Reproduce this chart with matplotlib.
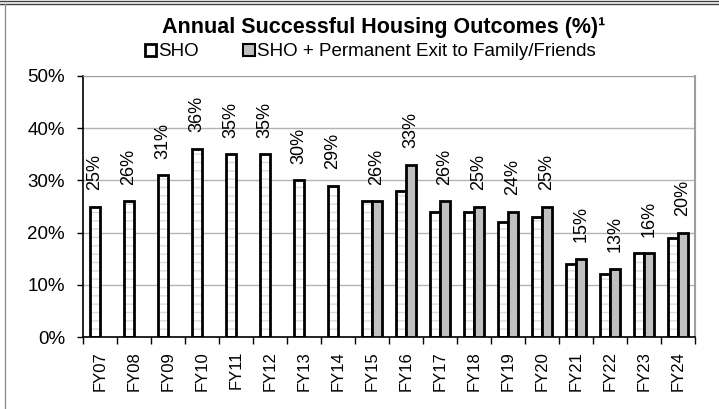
from matplotlib import pyplot as plt
from matplotlib.patches import Patch
from matplotlib.lines import Line2D
import numpy as np

# Data
years = ["FY07", "FY08", "FY09", "FY10", "FY11", "FY12", "FY13", "FY14", "FY15",
         "FY16", "FY17", "FY18", "FY19", "FY20", "FY21", "FY22", "FY23", "FY24"]
sho = [25, 26, 31, 36, 35, 35, 30, 29, 26, 28, 24, 24, 22, 23, 14, 12, 16, 19]
sho_family = [np.nan] * 8 + [26, 33, 26, 25, 24, 25, 15, 13, 16, 20]
y_ticks = [0, 10, 20, 30, 40, 50]

plt.rcParams["font.family"] = ["Liberation Sans", "DejaVu Sans"]
plt.rcParams["hatch.linewidth"] = 1.0

fig = plt.figure(figsize=(7.19, 4.09), dpi=100)
ax = fig.add_axes([83 / 719, 1 - 337 / 409, 612 / 719, 261 / 409])

x = np.arange(len(years))
w = 0.294
fam = np.array(sho_family, dtype=float)

#Gridlines behind bars
ax.set_axisbelow(True)
ax.yaxis.grid(True, color="#b4b4b4", linewidth=1.0)

#White bars: light dashed fill, then black outline
ax.bar(x - w / 2, sho, w, color="white", hatch="--", edgecolor="#dadada", linewidth=0, zorder=2)
ax.bar(x - w / 2, sho, w, fill=False, edgecolor="black", linewidth=2.0, zorder=3)

#Gray bars
ax.bar(x + w / 2, fam, w, color="#c0c0c0", edgecolor="black", linewidth=2.0, zorder=3)

#Value labels above the tallest bar of each year
for i in range(len(years)):
    if np.isnan(fam[i]):
        val, xpos = sho[i], x[i] - w / 2
    else:
        val, xpos = fam[i], x[i] + w / 2
    ax.annotate(f"{int(val)}%", (xpos, val), xytext=(0, 12), textcoords="offset points",
                rotation=90, ha="center", va="bottom", fontsize=13)

#Axes styling
ax.set_xlim(-0.5, len(years) - 0.5)
ax.set_ylim(0, 50)
ax.set_yticks(y_ticks)
ax.set_yticklabels([f"{t}%" for t in y_ticks], fontsize=13.5)
ax.tick_params(axis="y", length=4, width=1, pad=9)

ax.set_xticks(x)
ax.set_xticklabels(years, rotation=90, fontsize=12)
ax.set_xticks(np.arange(-0.5, len(years)), minor=True)
ax.tick_params(axis="x", which="major", length=0, pad=10)
ax.tick_params(axis="x", which="minor", length=5, width=1)

ax.spines["left"].set_color("black")
ax.spines["bottom"].set_color("black")
ax.spines["left"].set_linewidth(1.2)
ax.spines["bottom"].set_linewidth(1.2)
ax.spines["top"].set_color("#a0a0a0")
ax.spines["right"].set_color("#a0a0a0")
ax.spines["right"].set_linewidth(1.5)

#Title and legend
fig.text(384 / 719, 1 - 27 / 409, "Annual Successful Housing Outcomes (%)\u00b9",
         ha="center", va="center", fontsize=15.5, fontweight="bold",
         family=["Liberation Sans Narrow", "Liberation Sans", "DejaVu Sans"])

handles = [Patch(facecolor="white", edgecolor="black", linewidth=2),
           Patch(facecolor="#c0c0c0", edgecolor="black", linewidth=1.5)]
fig.legend(handles, ["SHO", "SHO + Permanent Exit to Family/Friends"],
           loc="center", bbox_to_anchor=(370 / 719, 1 - 52 / 409), ncol=2,
           frameon=False, fontsize=13.5, handlelength=0.6, handleheight=0.6,
           handletextpad=0.1, columnspacing=2.4, borderaxespad=0, borderpad=0)

#Outer frame lines (top double line, left line)
fig.add_artist(Line2D([0, 1], [1 - 1 / 409, 1 - 1 / 409], color="#404040", linewidth=1, transform=fig.transFigure))
fig.add_artist(Line2D([0, 1], [1 - 4 / 409, 1 - 4 / 409], color="#404040", linewidth=1, transform=fig.transFigure))
fig.add_artist(Line2D([5 / 719, 5 / 719], [0, 1 - 4 / 409], color="#909090", linewidth=1, transform=fig.transFigure))

fig.savefig("out.png", dpi=100)
